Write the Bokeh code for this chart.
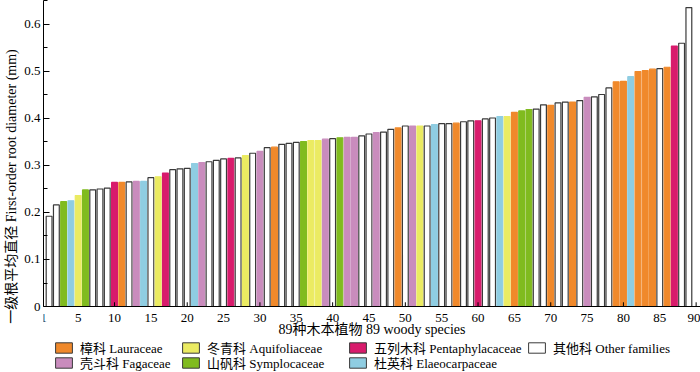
from bokeh.plotting import figure
from bokeh.models import (ColumnDataSource, Range1d, FixedTicker, Legend, LegendItem)
from bokeh.embed import file_html
from bokeh.resources import INLINE

# ---- data ----
species = list(range(1, 90))
diameter = [
    0.192, 0.216, 0.223, 0.225, 0.236, 0.248, 0.248, 0.250, 0.252, 0.264,
    0.264, 0.265, 0.266, 0.266, 0.274, 0.276, 0.284, 0.291, 0.293, 0.294,
    0.304, 0.306, 0.308, 0.311, 0.314, 0.315, 0.316, 0.321, 0.326, 0.330,
    0.338, 0.339, 0.345, 0.347, 0.349, 0.351, 0.353, 0.353, 0.356, 0.357,
    0.359, 0.360, 0.360, 0.363, 0.367, 0.370, 0.371, 0.377, 0.380, 0.384,
    0.384, 0.384, 0.384, 0.387, 0.389, 0.389, 0.390, 0.393, 0.395, 0.395,
    0.399, 0.401, 0.404, 0.404, 0.413, 0.416, 0.419, 0.420, 0.429, 0.428,
    0.433, 0.435, 0.435, 0.438, 0.445, 0.446, 0.451, 0.465, 0.478, 0.479,
    0.489, 0.500, 0.502, 0.505, 0.506, 0.509, 0.554, 0.560, 0.636,
]
family = [
    "O", "O", "S", "E", "A", "S", "O", "O", "O", "P",
    "L", "O", "F", "E", "O", "A", "P", "O", "O", "O",
    "E", "F", "O", "O", "O", "P", "O", "A", "O", "F",
    "O", "L", "O", "O", "O", "S", "A", "A", "F", "O",
    "S", "F", "F", "O", "O", "F", "O", "O", "L", "O",
    "F", "A", "O", "E", "O", "O", "L", "O", "O", "P",
    "O", "O", "E", "A", "L", "S", "S", "O", "O", "L",
    "O", "O", "L", "O", "F", "O", "O", "O", "L", "L",
    "E", "L", "L", "L", "O", "L", "P", "O", "O",
]
family_codes = ["L", "F", "A", "S", "P", "E", "O"]
family_labels = [
    "樟科 Lauraceae", "壳斗科 Fagaceae", "冬青科 Aquifoliaceae",
    "山矾科 Symplocaceae", "五列木科 Pentaphylacaceae",
    "杜英科 Elaeocarpaceae", "其他科 Other families",
]
family_colors = ["#f0892b", "#c98cbd", "#ebeb62", "#80bb1f", "#d81b6c", "#8fcde2", "#ffffff"]
# legend grid: (column, row) of each family's entry
legend_cells = {"L": (0, 0), "F": (0, 1), "A": (1, 0), "S": (1, 1),
                "P": (2, 0), "E": (2, 1), "O": (3, 0)}
x_tick_values = [1, 5, 10, 15, 20, 25, 30, 35, 40, 45, 50, 55, 60, 65, 70, 75, 80, 85, 90]
x_tick_marks = [10, 20, 30, 40, 50, 60, 70, 80, 90]
y_ticks = [0, 0.1, 0.2, 0.3, 0.4, 0.5, 0.6]

OUTLINE = "#3a3a3a"
SERIF = "Liberation Serif, Noto Sans CJK SC"

cmap = dict(zip(family_codes, family_colors))
lmap = dict(zip(family_codes, family_labels))
fills = [cmap[f] for f in family]
lines = [OUTLINE if f == "O" else cmap[f] for f in family]
src = ColumnDataSource(dict(x=species, top=diameter, fill=fills, line=lines))

X0 = 0.23
Y_TOP = 0.651
Y_BOTTOM = -0.1404   # room under the x axis for labels and legend
p = figure(width=700, height=372, output_backend="svg", toolbar_location=None,
           x_range=Range1d(X0, 90.6), y_range=Range1d(Y_BOTTOM, Y_TOP),
           min_border_left=43, min_border_right=0, min_border_top=0, min_border_bottom=0)
p.outline_line_color = None
p.grid.visible = False
p.background_fill_color = "white"

p.vbar(x="x", top="top", width=0.8, bottom=0, fill_color="fill", line_color="line",
       line_width=1.2, source=src)

# tick marks at multiples of 10 on the x axis (inside)
p.segment(x0=x_tick_marks, x1=x_tick_marks, y0=[0] * len(x_tick_marks),
          y1=[0.009] * len(x_tick_marks), line_color="black", line_width=1)

# axes
xt = [X0] + x_tick_values[1:]
p.xaxis.fixed_location = 0
p.xaxis.ticker = FixedTicker(ticks=xt)
p.xaxis.major_label_overrides = {X0: "1"}
p.xaxis.major_tick_in = 0
p.xaxis.major_tick_out = 0
p.xaxis.minor_tick_in = 0
p.xaxis.minor_tick_out = 0
p.xaxis.axis_label = "89种木本植物 89 woody species"

p.yaxis.bounds = (0, Y_TOP)
p.yaxis.ticker = FixedTicker(ticks=y_ticks, minor_ticks=[i * 0.05 for i in range(14)])
p.yaxis.major_label_overrides = {0: "0"}
p.yaxis.major_tick_in = 6
p.yaxis.major_tick_out = 0
p.yaxis.minor_tick_in = 4
p.yaxis.minor_tick_out = 0
p.yaxis.axis_label = "一级根平均直径 First-order root diameter (mm)"

for ax in (p.xaxis, p.yaxis):
    ax.axis_line_color = "black"
    ax.axis_line_width = 1
    ax.major_tick_line_color = "black"
    ax.minor_tick_line_color = "black"
    ax.major_label_text_font = SERIF
    ax.major_label_text_font_size = "13px"
    ax.major_label_text_color = "black"
    ax.axis_label_text_font = SERIF
    ax.axis_label_text_font_size = "14px"
    ax.axis_label_text_font_style = "normal"
    ax.axis_label_text_color = "black"
p.xaxis.major_label_standoff = 7
p.xaxis.axis_label_standoff = -3
p.yaxis.major_label_standoff = 3
p.yaxis.axis_label_standoff = 2

# swatch renderers for the legend (kept outside the visible range; only style used)
proxies = {}
for code in family_codes:
    proxies[code] = p.vbar(x=[-5], top=[-5], bottom=[-6], width=0.5,
                           fill_color=cmap[code], line_color=OUTLINE, line_width=1)

col_x = [10, 137, 304, 483]   # frame-relative screen offsets of legend columns
row_y = [15, 0]
for code in family_codes:
    c, r = legend_cells[code]
    lg = Legend(items=[LegendItem(label=lmap[code], renderers=[proxies[code]])],
                orientation="vertical", location=(col_x[c], row_y[r]),
                margin=0, padding=0, spacing=0,
                glyph_width=21, glyph_height=13, label_height=13, label_standoff=6,
                label_text_font=SERIF, label_text_font_size="13px",
                label_text_line_height=1.0, label_text_color="black",
                border_line_color=None, background_fill_alpha=0)
    p.add_layout(lg, "center")

html = file_html(p, INLINE)
open("out.html", "w").write(html)
